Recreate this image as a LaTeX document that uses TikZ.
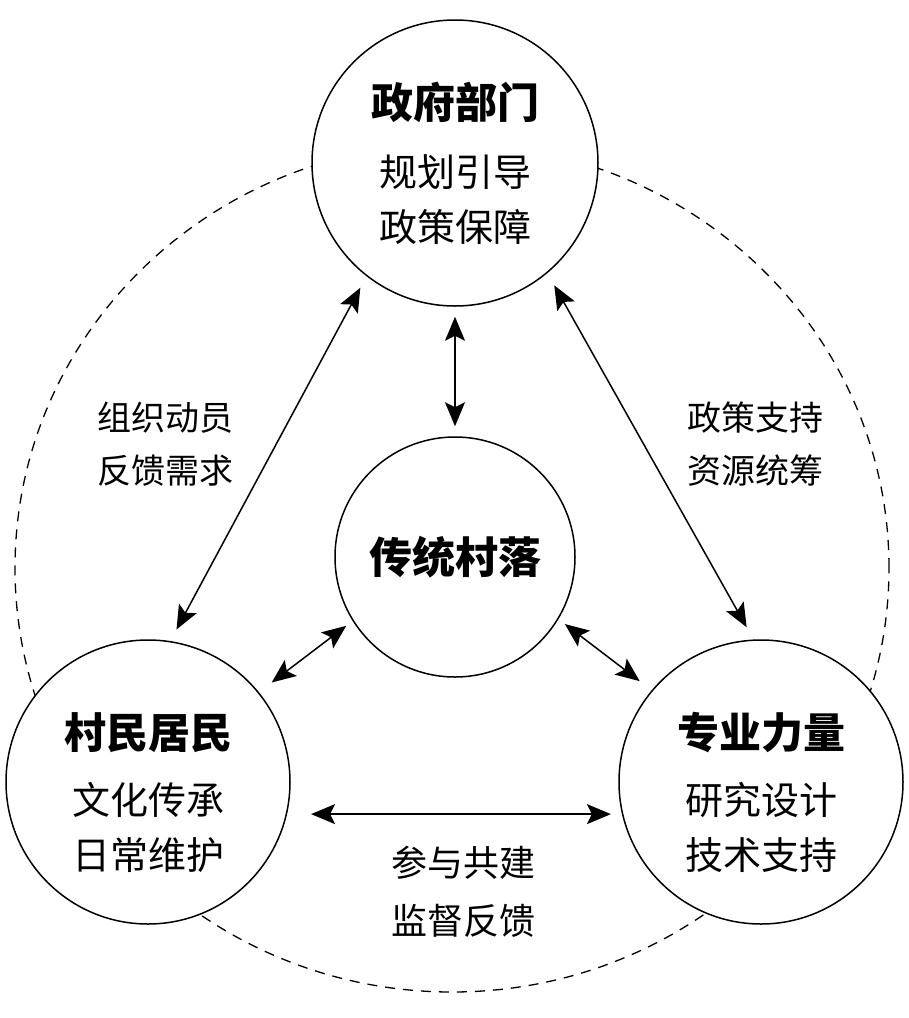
\documentclass[tikz,border=0pt]{standalone}
\usepackage{fontspec}
\setmainfont{Noto Sans CJK SC}
\usetikzlibrary{arrows.meta}

\begin{document}
\begin{tikzpicture}[x=1pt, y=-1pt,
    %Option for nice arrows
    >={Stealth[length=24pt,width=20pt,inset=5pt]},
    line width=1.5pt,
    actor/.style={circle, draw, fill=white, inner sep=0pt, minimum size=#1,
        align=center, font=\fontsize{38}{55}\selectfont},
    ring/.style={dash pattern=on 10pt off 8pt, line width=1.3pt},
    note/.style={align=center, font=\fontsize{34}{53}\selectfont},
]
    \useasboundingbox (0,0) rectangle (909,1018);

    % Outer ring
    \draw[ring] (452,568) ellipse [x radius=437pt, y radius=424pt];

    % Actors
    \node[actor=286pt] (gov) at (455,163)
        {{\bfseries\fontsize{42}{55}\selectfont 政府部门}\\[13pt]规划引导\\政策保障};
    \node[actor=240pt] (vil) at (455,557)
        {\bfseries\fontsize{43}{55}\selectfont 传统村落};
    \node[actor=284pt] (res) at (148,782)
        {{\rule{0pt}{58pt}\bfseries\fontsize{42}{55}\selectfont 村民居民}\\[11pt]文化传承\\日常维护};
    \node[actor=284pt] (pro) at (761,782)
        {{\rule{0pt}{58pt}\bfseries\fontsize{42}{55}\selectfont 专业力量}\\[11pt]研究设计\\技术支持};

    % Links
    \draw[<->, shorten <=13pt, shorten >=13pt] (gov.232) -- (res.81);
    \draw[<->, shorten <=14pt, shorten >=14pt] (gov.310) -- (pro.93);
    \draw[<->, shorten <=10pt, shorten >=10pt] (gov.south) -- (vil.north);
    \draw[<->, shorten <=8pt, shorten >=16pt] (vil.212) -- (res.39);
    \draw[<->, shorten <=8pt, shorten >=15pt] (vil.329) -- (pro.140);
    \draw[<->, shorten <=24pt, shorten >=11pt] (res.-13) -- (pro.193);

    % Notes
    \node[note] (mobilise) at (165,444) {组织动员\\反馈需求};
    \node[note] (support) at (755,444) {政策支持\\资源统筹};
    \node[note, font=\fontsize{36}{58}\selectfont] (cobuild) at (463,892) {参与共建\\监督反馈};
\end{tikzpicture}
\end{document}
